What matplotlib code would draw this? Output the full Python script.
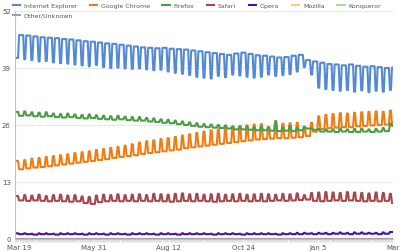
import datetime as dt
import numpy as np
import matplotlib.pyplot as plt
import matplotlib.dates as mdates

# daily data from Sat 2012-03-17 to Tue 2013-03-19, read per week:
# one value for Mon-Fri, one for Sat/Sun
start = dt.date(2012, 3, 17)
n_days = 368

ie_wkday = [46.5, 46.4, 46.2, 46.0, 45.9, 45.8, 45.6,
            45.5, 45.3, 45.1, 45.0, 44.8, 44.6, 44.5, 44.3, 44.1, 43.9,
            43.7, 43.6, 43.5, 43.6, 43.4, 43.3, 43.2, 43.0, 42.8, 42.6,
            42.4, 42.2, 42.0, 42.3, 42.5, 42.2, 41.9, 41.8,
            41.6, 41.4, 41.5, 41.8, 42.0, 40.8, 40.5,
            40.2, 39.9, 39.8, 39.6, 39.8, 39.5, 39.3, 39.4, 39.2, 39.0, 39.1]
ie_wkend = [41.3, 41.0, 40.8, 40.5, 40.6, 40.3, 40.1,
            40.0, 39.8, 39.6, 39.4, 39.7, 39.2, 39.0, 39.1, 38.9, 38.8,
            38.9, 38.7, 38.5, 38.6, 38.2, 37.9, 37.7, 37.4, 37.0, 36.8,
            36.6, 37.2, 36.9, 37.5, 37.3, 37.0, 36.8, 37.0,
            37.5, 37.2, 37.4, 37.6, 38.2, 39.2, 37.5,
            34.5, 34.2, 34.0, 33.8, 34.0, 33.6, 33.9, 33.5, 33.8, 33.6, 34.0]

chrome_wkday = [15.9, 16.1, 16.3, 16.4, 16.6, 16.8, 17.0, 17.2, 17.4,
                17.6, 17.8, 18.0, 18.2, 18.5, 18.7, 18.9, 19.1, 19.4,
                19.6, 19.8, 20.0, 20.2, 20.4, 20.7, 20.9, 21.1, 21.3,
                21.5, 21.7, 21.9, 22.1, 22.3, 22.5, 22.7, 22.8,
                22.9, 23.0, 23.0, 23.1, 23.2, 23.5, 24.5,
                25.1, 25.3, 25.4, 25.5, 25.5, 25.7, 25.8, 25.9, 26.0, 26.1, 26.3]
chrome_wkend = [17.8, 18.0, 18.3, 18.5, 18.7, 18.9, 19.1, 19.3, 19.6,
                19.8, 20.0, 20.3, 20.5, 20.8, 21.0, 21.3, 21.6, 22.0,
                22.3, 22.5, 22.8, 23.0, 23.3, 23.6, 23.9, 24.2, 24.5,
                24.8, 25.0, 25.3, 25.5, 25.7, 25.9, 26.1, 26.2,
                25.5, 26.0, 26.3, 26.4, 26.5, 25.5, 26.5,
                28.0, 28.3, 28.5, 28.7, 28.6, 28.8, 28.9, 29.0, 29.1, 29.0, 29.3]

firefox_wkday = [28.1, 28.2, 28.0, 27.9, 28.0, 27.8, 27.7, 27.8, 27.6,
                 27.5, 27.6, 27.4, 27.3, 27.2, 27.3, 27.1, 27.0, 27.0,
                 26.8, 26.7, 26.5, 26.4, 26.2, 26.0, 25.8, 25.6, 25.5,
                 25.4, 25.3, 25.2, 25.0, 25.0, 24.9, 24.8, 24.8,
                 24.7, 24.6, 24.7, 24.6, 24.8, 25.2, 24.9,
                 24.5, 24.5, 24.4, 24.5, 24.4, 24.4, 24.5, 24.4, 24.5, 24.6, 25.8]
firefox_wkend = [29.0, 29.1, 28.9, 28.8, 28.9, 28.6, 28.5, 28.6, 28.4,
                 28.3, 28.4, 28.2, 28.1, 28.0, 28.1, 27.9, 27.8, 27.8,
                 27.6, 27.5, 27.3, 27.2, 27.0, 26.8, 26.6, 26.4, 26.2,
                 26.1, 26.0, 25.9, 25.7, 25.7, 25.6, 25.5, 25.6,
                 25.5, 26.9, 25.4, 25.8, 25.3, 25.6, 25.2,
                 25.1, 25.0, 25.0, 25.2, 25.0, 25.1, 25.2, 25.0, 25.1, 25.3, 26.3]

safari_wkday = [8.8, 8.7, 8.8, 8.7, 8.6, 8.7, 8.6, 8.5, 8.6, 8.2, 8.0, 8.4, 8.6,
                8.7, 8.6, 8.7, 8.6, 8.7, 8.6, 8.7, 8.6, 8.5, 8.6, 8.7, 8.6, 8.7,
                8.6, 8.5, 8.6, 8.7, 8.6, 8.7, 8.6, 8.7, 8.6, 8.7, 8.8, 8.7, 8.8,
                8.9, 9.0, 8.7, 8.6, 8.7, 8.8, 8.7, 8.8, 8.7, 8.6, 8.7, 8.6, 8.7, 8.2]
safari_wkend = [9.8, 10.0, 9.9, 10.1, 9.8, 10.0, 10.1, 9.9, 10.0, 9.7, 9.6, 9.9, 10.1,
                10.0, 10.2, 10.0, 10.1, 10.2, 10.0, 10.3, 10.2, 10.1, 10.3, 10.4, 10.2, 10.3,
                10.1, 10.2, 10.3, 10.1, 10.2, 10.3, 10.1, 10.2, 10.3, 10.2, 10.1, 10.3, 10.2,
                10.4, 10.0, 10.5, 10.6, 10.7, 10.6, 10.5, 10.7, 10.6, 10.5, 10.4, 10.6, 10.5, 10.3]

opera_wkday = [1.1, 1.1, 1.0, 1.1, 1.1, 1.0, 1.1, 1.1, 1.1, 1.0, 1.1, 1.1, 1.0,
               1.1, 1.1, 1.0, 1.1, 1.1, 1.1, 1.0, 1.1, 1.1, 1.0, 1.1, 1.1, 1.1,
               1.1, 1.0, 1.1, 1.1, 1.1, 1.0, 1.1, 1.1, 1.1, 1.1, 1.0, 1.1, 1.1,
               1.1, 1.2, 1.1, 1.2, 1.1, 1.2, 1.2, 1.1, 1.2, 1.2, 1.2, 1.1, 1.2, 1.6]
opera_wkend = [1.3, 1.3, 1.2, 1.3, 1.3, 1.2, 1.3, 1.3, 1.3, 1.2, 1.3, 1.3, 1.2,
               1.3, 1.3, 1.2, 1.3, 1.3, 1.3, 1.2, 1.3, 1.3, 1.2, 1.3, 1.3, 1.3,
               1.3, 1.2, 1.3, 1.3, 1.3, 1.2, 1.3, 1.3, 1.3, 1.3, 1.2, 1.3, 1.3,
               1.4, 1.4, 1.3, 1.4, 1.4, 1.4, 1.5, 1.4, 1.5, 1.5, 1.4, 1.4, 1.5, 1.6]

# the small ones sit on the axis all year
mozilla_week = [0.1] * 53
konqueror_week = [0.02] * 53
other_week = [0.05] * 53

names = ["Internet Explorer", "Google Chrome", "Firefox", "Safari",
         "Opera", "Mozilla", "Konqueror", "Other/Unknown"]
colors = ["#5489d6", "#f07d14", "#4c9e45", "#a5474b",
          "#4b10a8", "#f7c98c", "#a3dea0", "#a0a0a0"]
weekly = [(ie_wkday, ie_wkend), (chrome_wkday, chrome_wkend),
          (firefox_wkday, firefox_wkend), (safari_wkday, safari_wkend),
          (opera_wkday, opera_wkend), (mozilla_week, mozilla_week),
          (konqueror_week, konqueror_week), (other_week, other_week)]

dates = [start + dt.timedelta(days=i) for i in range(n_days)]
week_idx = np.arange(n_days) // 7
is_wkend = np.array([d.weekday() >= 5 for d in dates])

fig = plt.figure(figsize=(4.0, 2.53), dpi=100)
ax = fig.add_axes([0.0375, 0.0514, 0.945, 0.9012])

lines = []
for name, col, (wd, we) in zip(names, colors, weekly):
    vals = np.where(is_wkend, np.array(we)[week_idx], np.array(wd)[week_idx])
    ln, = ax.plot(dates, vals, color=col, lw=1.5, label=name, solid_joinstyle="round")
    lines.append(ln)

ax.set_ylim(0, 52)
ax.set_yticks([0, 13, 26, 39, 52])
ax.set_xlim(dt.date(2012, 3, 15), dt.date(2013, 3, 19))

tick_days = [dt.date(2012, 3, 19) + dt.timedelta(days=73 * k) for k in range(6)]
ax.set_xticks(tick_days)
# last label runs off the right edge in the original, only "Mar" shows
ax.set_xticklabels([f"{d:%b} {d.day}" for d in tick_days[:-1]] + ["Mar"])
ax.xaxis.set_minor_locator(mdates.DayLocator())

ax.grid(axis="y", color="#e8e8e8", lw=0.8)
ax.set_axisbelow(True)
for s in ["top", "right"]:
    ax.spines[s].set_visible(False)
ax.spines["left"].set_color("#c0c0c0")
ax.spines["bottom"].set_color("#c0c0c0")
ax.tick_params(axis="y", length=0, pad=3, labelsize=5, labelcolor="#555555")
ax.tick_params(axis="x", which="major", length=0, pad=3.5, labelsize=5, labelcolor="#555555")
ax.tick_params(axis="x", which="minor", length=2.5, width=0.4, color="#c8c8c8")

# legend fills column-wise, so Other/Unknown goes second to land under IE
order = [0, 7, 1, 2, 3, 4, 5, 6]
leg = fig.legend([lines[i] for i in order], [names[i] for i in order],
                 loc="upper left", bbox_to_anchor=(0.025, 0.995), ncol=7,
                 frameon=False, fontsize=4.5, handlelength=1.2, handletextpad=0.6,
                 columnspacing=2.0, labelspacing=0.7, borderaxespad=0)
for t in leg.get_texts():
    t.set_color("#555555")

fig.savefig("out.png", dpi=100)
